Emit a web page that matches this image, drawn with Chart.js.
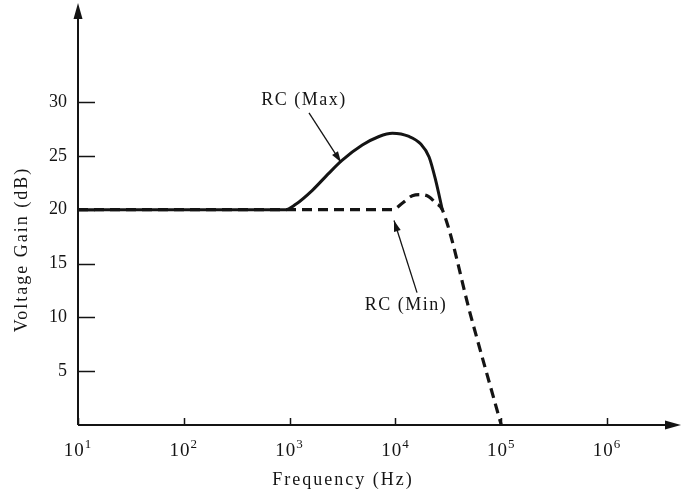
<!DOCTYPE html>
<html>
<head>
<meta charset="utf-8">
<script src="https://cdn.jsdelivr.net/npm/chart.js@4.4.0/dist/chart.umd.min.js"></script>
<style>
  html, body { margin: 0; padding: 0; background: #fff; }
  #wrap { width: 681px; height: 493px; }
</style>
</head>
<body>
<div id="wrap"><canvas id="gainChart" width="681" height="493"></canvas></div>
<script>
// gain curves, frequency in Hz, gain in dB
var freqMax = [10, 918, 1143, 1640, 2355, 3147, 4864, 7000, 9355, 13460, 17370, 20800, 24050, 27730];
var gainMax = [20, 20, 20.5, 21.8, 23.4, 24.6, 26.0, 26.8, 27.1, 26.8, 26.1, 24.9, 22.7, 20.0];

var freqMin = [10, 9355, 11600, 14450, 17380, 20800, 24050, 27730, 52000, 100000];
var gainMin = [20, 20, 20.6, 21.3, 21.4, 21.2, 20.6, 20.0, 10, 0];

var xTicks = [1e1, 1e2, 1e3, 1e4, 1e5, 1e6];
var xTickExp = ['1', '2', '3', '4', '5', '6'];
var yTicks = [5, 10, 15, 20, 25, 30];

// callout labels: text position and arrow (tail -> head), in data units
var notes = [
  { text: 'RC (Max)', x: 1370, y: 30.2, from: [1525, 29.0], to: [3060, 24.4] },
  { text: 'RC (Min)', x: 12600, y: 11.1, from: [16000, 12.3], to: [9700, 19.0] }
];

var ink = '#141414';
var serif = '"Liberation Serif", "DejaVu Serif", serif';

function toPoints(xs, ys) {
  return xs.map(function(f, i) { return { x: f, y: ys[i] }; });
}

function arrowHead(c, x1, y1, x2, y2, len, half) {
  var a = Math.atan2(y2 - y1, x2 - x1);
  c.beginPath();
  c.moveTo(x2, y2);
  c.lineTo(x2 - len * Math.cos(a) + half * Math.sin(a), y2 - len * Math.sin(a) - half * Math.cos(a));
  c.lineTo(x2 - len * Math.cos(a) - half * Math.sin(a), y2 - len * Math.sin(a) + half * Math.cos(a));
  c.closePath();
  c.fill();
}

var axesPlugin = {
  id: 'axesAndNotes',
  afterDraw: function(chart) {
    var c = chart.ctx;
    var xs = chart.scales.x, ys = chart.scales.y, area = chart.chartArea;
    var x0 = area.left, y0 = area.bottom;
    c.save();
    c.strokeStyle = ink;
    c.fillStyle = ink;

    // axis lines with arrows
    c.lineWidth = 2;
    c.beginPath();
    c.moveTo(x0, y0); c.lineTo(x0, area.top + 12);
    c.moveTo(x0, y0); c.lineTo(area.right - 12, y0);
    c.stroke();
    arrowHead(c, x0, area.top + 20, x0, area.top, 16, 4.5);
    arrowHead(c, area.right - 20, y0, area.right, y0, 16, 4.5);

    // tick marks point into the plot
    c.lineWidth = 1.5;
    c.beginPath();
    yTicks.forEach(function(v) {
      var py = Math.round(ys.getPixelForValue(v)) + 0.5;
      c.moveTo(x0, py); c.lineTo(x0 + 17, py);
    });
    xTicks.forEach(function(v) {
      var px = Math.round(xs.getPixelForValue(v)) + 0.5;
      c.moveTo(px, y0); c.lineTo(px, y0 - 7);
    });
    c.stroke();

    // decade labels 10^n
    c.textBaseline = 'alphabetic';
    c.textAlign = 'left';
    c.letterSpacing = '1px';
    xTicks.forEach(function(v, i) {
      var px = xs.getPixelForValue(v);
      c.font = '19px ' + serif;
      var wb = c.measureText('10').width;
      c.font = '13px ' + serif;
      var we = c.measureText(xTickExp[i]).width;
      var left = px - (wb + we) / 2;
      c.font = '19px ' + serif;
      c.fillText('10', left, y0 + 31);
      c.font = '13px ' + serif;
      c.fillText(xTickExp[i], left + wb, y0 + 23);
    });

    // axis titles
    c.font = '18px ' + serif;
    c.letterSpacing = '2px';
    c.textAlign = 'center';
    c.fillText('Frequency (Hz)', x0 + 265, y0 + 60);
    c.save();
    c.translate(27, ys.getPixelForValue(16.3));
    c.rotate(-Math.PI / 2);
    c.fillText('Voltage Gain (dB)', 0, 0);
    c.restore();

    // callouts
    c.letterSpacing = '1.5px';
    c.textBaseline = 'middle';
    notes.forEach(function(n) {
      c.fillText(n.text, xs.getPixelForValue(n.x), ys.getPixelForValue(n.y));
      var ax = xs.getPixelForValue(n.from[0]), ay = ys.getPixelForValue(n.from[1]);
      var bx = xs.getPixelForValue(n.to[0]), by = ys.getPixelForValue(n.to[1]);
      c.lineWidth = 1.3;
      c.beginPath();
      c.moveTo(ax, ay); c.lineTo(bx, by);
      c.stroke();
      arrowHead(c, ax, ay, bx, by, 11, 3.5);
    });
    c.restore();
  }
};

var ctx = document.getElementById('gainChart');
new Chart(ctx, {
  type: 'line',
  data: {
    datasets: [
      {
        label: 'RC (Max)',
        data: toPoints(freqMax, gainMax),
        borderColor: ink,
        borderWidth: 3,
        pointRadius: 0,
        fill: false,
        cubicInterpolationMode: 'monotone'
      },
      {
        label: 'RC (Min)',
        data: toPoints(freqMin, gainMin),
        borderColor: ink,
        borderWidth: 3.2,
        borderDash: [10, 6],
        pointRadius: 0,
        fill: false,
        cubicInterpolationMode: 'monotone'
      }
    ]
  },
  options: {
    responsive: false,
    animation: false,
    devicePixelRatio: 1,
    layout: { padding: { top: 3, right: 0, left: 0, bottom: 0 } },
    plugins: { legend: { display: false }, tooltip: { enabled: false } },
    scales: {
      x: {
        type: 'logarithmic',
        min: 10,
        max: 5e6,
        bounds: 'data',
        grid: { display: false, drawTicks: false },
        border: { display: false },
        ticks: { display: false },
        afterBuildTicks: function(s) { s.ticks = xTicks.map(function(v) { return { value: v }; }); },
        afterFit: function(s) { s.height = 68; s.paddingLeft = 0; s.paddingRight = 0; }
      },
      y: {
        min: 0,
        max: 39.2,
        grid: { display: false, drawTicks: false },
        border: { display: false },
        ticks: { padding: 11, color: ink, font: { family: serif, size: 18 } },
        afterBuildTicks: function(s) { s.ticks = yTicks.map(function(v) { return { value: v }; }); },
        afterFit: function(s) { s.width = 78; s.paddingTop = 0; s.paddingBottom = 0; }
      }
    }
  },
  plugins: [axesPlugin]
});
</script>
</body>
</html>
